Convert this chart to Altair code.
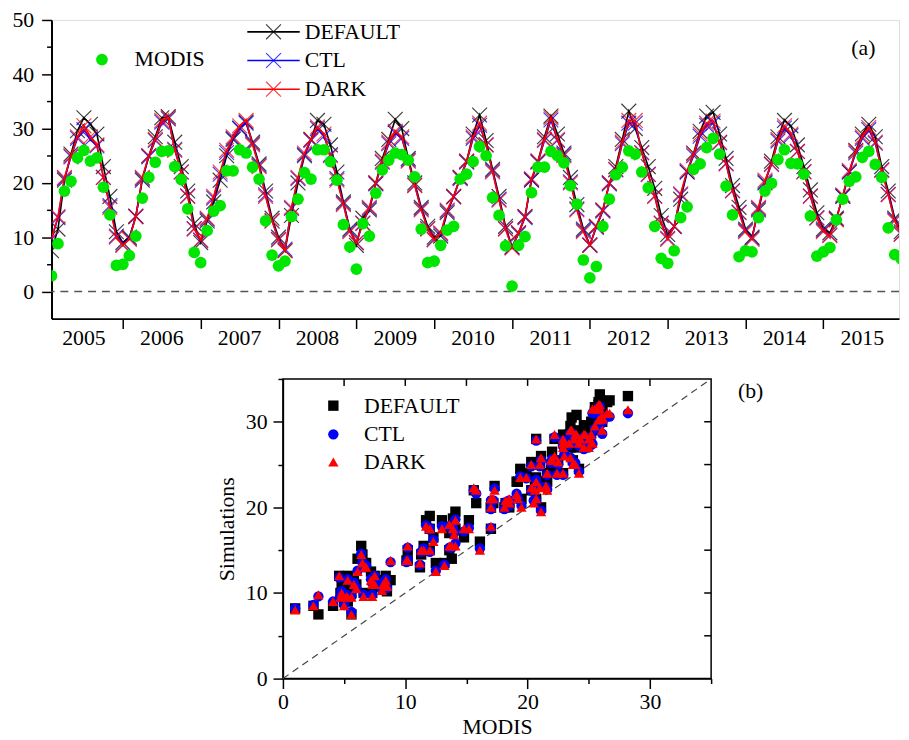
import altair as alt
import pandas as pd

FONT = "Liberation Serif"

YEARS = list(range(2005, 2016))
MONTHS = list(range(1, 13))

MODIS = [
    2.9, 8.8, 18.5, 20.3, 24.6, 26.0, 24.0, 24.6, 19.2, 14.1, 4.8, 5.0,
    6.6, 10.2, 17.2, 21.0, 23.8, 25.8, 25.9, 23.0, 20.6, 15.2, 7.2, 5.3,
    11.2, 14.8, 15.8, 22.2, 22.2, 26.1, 25.5, 22.9, 20.7, 13.0, 6.7, 4.7,
    5.6, 13.8, 17.0, 21.9, 20.7, 26.1, 26.1, 23.9, 20.5, 12.3, 8.2, 4.1,
    12.5, 10.2, 18.1, 22.4, 24.2, 25.5, 25.2, 24.2, 21.1, 11.5, 5.3, 5.6,
    8.5, 11.3, 12.0, 20.7, 21.6, 23.9, 26.7, 25.0, 17.3, 14.0, 8.4, 1.0,
    8.5, 10.1, 18.2, 22.9, 22.9, 25.8, 25.0, 23.7, 19.5, 16.1, 5.8, 2.5,
    4.6, 12.0, 17.0, 21.5, 22.9, 25.9, 25.3, 22.0, 19.1, 12.0, 6.1, 5.2,
    7.5, 13.6, 15.6, 22.5, 23.5, 26.5, 28.2, 25.3, 19.4, 14.1, 6.4, 7.5,
    7.3, 13.6, 18.5, 19.9, 24.3, 26.1, 23.6, 23.5, 21.6, 13.9, 6.5, 7.3,
    8.1, 13.2, 17.0, 20.3, 21.1, 24.7, 25.8, 23.4, 21.0, 11.7, 6.8, 6.0,
]

DEFAULT = [
    7.5, 11.5, 20.5, 25.3, 29.6, 32.0, 30.8, 29.0, 23.0, 17.5, 11.0, 9.0,
    10.0, 13.8, 20.5, 25.0, 28.5, 32.0, 32.2, 27.5, 23.0, 18.5, 12.5, 9.0,
    13.0, 16.5, 20.5, 25.0, 28.0, 30.0, 31.2, 27.5, 23.5, 18.5, 13.5, 10.0,
    7.5, 14.0, 20.0, 25.0, 28.0, 31.5, 30.8, 27.0, 22.0, 16.5, 11.5, 8.5,
    13.5, 15.0, 20.0, 24.5, 28.0, 31.7, 30.0, 24.5, 20.0, 15.5, 12.0, 10.0,
    10.2, 14.5, 17.5, 21.0, 24.0, 29.0, 32.5, 27.8, 22.5, 17.5, 12.0, 8.2,
    10.8, 13.8, 20.5, 24.0, 28.5, 32.3, 29.0, 25.5, 21.0, 16.0, 11.5, 8.5,
    12.0, 15.0, 20.0, 23.0, 28.0, 33.2, 30.0, 26.5, 23.0, 19.0, 14.0, 10.5,
    12.0, 17.0, 22.0, 25.5, 29.5, 32.3, 33.0, 29.0, 24.5, 19.5, 15.5, 11.5,
    10.0, 15.0, 20.0, 24.0, 28.5, 31.5, 30.5, 27.0, 23.0, 18.7, 14.5, 11.5,
    10.8, 13.5, 17.5, 22.0, 26.0, 29.0, 30.8, 28.5, 23.0, 18.5, 13.5, 11.0,
]

CTL = [
    9.6, 13.6, 20.8, 24.8, 28.2, 29.8, 28.0, 26.8, 21.0, 15.8, 10.2, 8.6,
    9.8, 13.9, 20.8, 24.8, 27.8, 31.2, 31.8, 26.2, 22.0, 17.6, 11.6, 9.4,
    13.3, 17.2, 21.6, 25.6, 28.2, 30.1, 31.0, 27.2, 23.2, 17.8, 13.0, 9.6,
    7.8, 15.3, 20.8, 25.2, 27.8, 30.0, 28.6, 25.2, 20.8, 16.2, 11.2, 9.0,
    12.6, 15.3, 19.8, 23.8, 27.2, 29.2, 28.2, 24.2, 19.6, 15.2, 11.6, 9.6,
    10.6, 14.8, 17.4, 20.8, 23.8, 28.2, 30.6, 27.0, 22.2, 17.0, 11.6, 8.2,
    10.6, 13.6, 20.6, 23.8, 27.8, 31.6, 27.8, 25.2, 20.2, 15.2, 11.2, 8.6,
    11.8, 14.8, 19.8, 22.4, 27.2, 31.0, 31.0, 25.6, 21.6, 17.6, 12.6, 9.8,
    12.0, 17.8, 22.0, 25.0, 28.6, 30.6, 31.0, 27.4, 23.6, 18.6, 14.6, 11.2,
    9.8, 15.3, 20.2, 23.4, 27.7, 30.1, 28.7, 25.8, 22.1, 17.6, 13.6, 11.2,
    10.4, 13.3, 17.6, 22.0, 25.5, 28.2, 29.8, 27.3, 22.4, 17.9, 13.2, 10.6,
]

DARK = [
    9.8, 13.8, 21.0, 25.0, 28.5, 30.5, 28.5, 27.0, 21.0, 15.5, 10.0, 8.5,
    9.6, 13.8, 21.0, 25.0, 28.0, 31.5, 32.0, 26.0, 22.0, 17.5, 11.5, 9.5,
    13.5, 17.5, 22.0, 26.0, 28.5, 30.5, 31.5, 27.0, 23.0, 17.5, 13.0, 9.5,
    7.5, 15.5, 21.0, 25.5, 28.0, 30.3, 29.0, 25.0, 20.5, 16.0, 11.0, 9.0,
    12.5, 15.5, 20.0, 24.0, 27.5, 29.5, 28.5, 24.0, 19.5, 15.0, 11.5, 9.5,
    10.8, 15.0, 17.5, 21.0, 24.0, 28.5, 31.0, 27.0, 22.0, 16.8, 11.5, 8.0,
    10.8, 13.8, 20.8, 24.0, 28.0, 32.0, 28.0, 25.0, 20.0, 15.0, 11.0, 8.5,
    12.0, 15.0, 20.0, 22.5, 27.5, 31.5, 31.5, 25.5, 21.5, 17.5, 12.5, 9.6,
    12.0, 18.0, 22.3, 25.3, 29.0, 31.0, 31.4, 27.5, 23.5, 18.5, 14.5, 11.0,
    9.6, 15.5, 20.5, 23.5, 28.0, 30.5, 29.0, 25.8, 22.0, 17.5, 13.5, 11.0,
    10.3, 13.2, 17.8, 22.3, 25.8, 28.5, 30.2, 27.5, 22.3, 17.8, 13.0, 10.5,
]

SERIES = ["DEFAULT", "CTL", "DARK"]
LINE_COLORS = ["#000000", "#0000ff", "#ff0000"]
SCATTER_SHAPES = ["square", "circle", "triangle-up"]
MODIS_COLOR = "#00e600"
XPATH = "M-1,-1L1,1M-1,1L1,-1"

t = [y + m / 12 for y in YEARS for m in MONTHS]
ts = pd.DataFrame({"t": t, "MODIS": MODIS, "DEFAULT": DEFAULT, "CTL": CTL, "DARK": DARK})
one = pd.DataFrame({"k": [0]})

# ---------------- panel (a) ----------------
WA, HA = 857, 302
xsc = alt.Scale(domain=[2005 + 1 / 12, 2015.972], nice=False, zero=False)
ysc = alt.Scale(domain=[-5, 50], nice=False, zero=False)

tick10 = {"condition": {"test": "datum.value % 10 === 0", "value": 10}, "value": 5}

ax_xa = alt.Axis(values=YEARS[1:], labels=False, title=None, tickSize=10, tickColor="black",
                 tickWidth=1.5, domainColor="black", domainWidth=2, grid=False)
ax_ya = alt.Axis(values=list(range(0, 55, 5)), title=None, tickSize=tick10, tickColor="black",
                 tickWidth=1.5, domainColor="black", domainWidth=2, grid=False,
                 labelExpr="datum.value % 10 === 0 ? datum.label : ''",
                 labelFont=FONT, labelFontSize=22, labelColor="black", labelPadding=8,
                 labelOverlap=False, labelFlush=False, minExtent=43)

base = alt.Chart(ts)
layers_a = []
layers_a.append(
    alt.Chart(pd.DataFrame({"y": [0]})).mark_rule(color="#555555", strokeDash=[8, 6], strokeWidth=1.5)
    .encode(y=alt.Y("y:Q", scale=ysc, axis=ax_ya))
)
for s, c in zip(SERIES, LINE_COLORS):
    enc = dict(x=alt.X("t:Q", scale=xsc, axis=ax_xa), y=alt.Y(f"{s}:Q", scale=ysc, axis=ax_ya))
    layers_a.append(base.mark_line(color=c, strokeWidth=1.6, clip=True).encode(**enc))
    layers_a.append(base.mark_point(shape=XPATH, filled=False, size=225, strokeWidth=1.2,
                                    color=c, opacity=0.75, clip=True).encode(**enc))
layers_a.append(
    base.mark_circle(color=MODIS_COLOR, size=140, opacity=1, clip=True)
    .encode(x=alt.X("t:Q", scale=xsc, axis=ax_xa), y=alt.Y("MODIS:Q", scale=ysc, axis=ax_ya))
)
# year labels
ylab = pd.DataFrame({"ym": [y + 0.5 for y in YEARS], "lab": [str(y) for y in YEARS]})
layers_a.append(
    alt.Chart(ylab).mark_text(font=FONT, fontSize=22, baseline="middle", align="center", color="black")
    .encode(x=alt.X("ym:Q", scale=xsc, axis=ax_xa), y=alt.value(HA + 20), text="lab:N")
)
# legend (a)
layers_a.append(alt.Chart(one).mark_circle(color=MODIS_COLOR, size=140, opacity=1)
                .encode(x=alt.value(51), y=alt.value(40)))
layers_a.append(alt.Chart(one).mark_text(text="MODIS", font=FONT, fontSize=22, align="left",
                                         baseline="middle", color="black")
                .encode(x=alt.value(84), y=alt.value(40)))
for s, c, yy in zip(SERIES, LINE_COLORS, [12, 41, 70]):
    layers_a.append(alt.Chart(one).mark_rule(color=c, strokeWidth=1.6)
                    .encode(x=alt.value(198), x2=alt.value(251), y=alt.value(yy)))
    layers_a.append(alt.Chart(one).mark_point(shape=XPATH, filled=False, size=225, strokeWidth=1.2,
                                              color=c, opacity=0.75)
                    .encode(x=alt.value(224.5), y=alt.value(yy)))
    layers_a.append(alt.Chart(one).mark_text(text=s, font=FONT, fontSize=22, align="left",
                                             baseline="middle", color="black")
                    .encode(x=alt.value(256), y=alt.value(yy)))
layers_a.append(alt.Chart(one).mark_text(text="(a)", font=FONT, fontSize=22, align="center",
                                         baseline="middle", color="black")
                .encode(x=alt.value(821), y=alt.value(28)))

panel_a = alt.layer(*layers_a).properties(width=WA, height=HA)

# ---------------- panel (b) ----------------
WB, HB = 433, 303
bsc = alt.Scale(domain=[0, 35], nice=False, zero=False)
common_b = dict(values=list(range(0, 40, 5)), tickSize=tick10, tickColor="black", tickWidth=1.5,
                domainColor="black", domainWidth=1.5, grid=False,
                labelExpr="datum.value % 10 === 0 && datum.value < 35 ? datum.label : ''",
                labelFont=FONT, labelFontSize=22, labelColor="black", labelOverlap=False,
                labelFlush=False, titleFont=FONT, titleFontSize=22, titleFontWeight="normal",
                titleColor="black")
ax_xb = alt.Axis(title="MODIS", labelPadding=3, titlePadding=5, **common_b)
ax_yb = alt.Axis(title="Simulations", labelPadding=6, titlePadding=7, **common_b)

layers_b = []
layers_b.append(
    alt.Chart(pd.DataFrame({"a": [0, 35]})).mark_line(color="#444444", strokeDash=[7, 5], strokeWidth=1.2)
    .encode(x=alt.X("a:Q", scale=bsc, axis=ax_xb), y=alt.Y("a:Q", scale=bsc, axis=ax_yb))
)
for s, c, sh in zip(SERIES, LINE_COLORS, SCATTER_SHAPES):
    layers_b.append(
        base.mark_point(shape=sh, filled=True, size=110, color=c, opacity=1)
        .encode(x=alt.X("MODIS:Q", scale=bsc, axis=ax_xb), y=alt.Y(f"{s}:Q", scale=bsc, axis=ax_yb))
    )
# mirror ticks (inward) on top and right
mt = pd.DataFrame({"v": [5, 10, 15, 20, 25, 30]})
layers_b.append(alt.Chart(mt).mark_rule(color="black", strokeWidth=1.5)
                .encode(x=alt.X("v:Q", scale=bsc, axis=ax_xb), y=alt.value(0),
                        y2=alt.value(7)))
layers_b.append(alt.Chart(mt).mark_rule(color="black", strokeWidth=1.5)
                .encode(y=alt.Y("v:Q", scale=bsc, axis=ax_yb), x=alt.value(WB),
                        x2=alt.value(WB - 7)))
# legend (b)
for s, c, sh, yy in zip(SERIES, LINE_COLORS, SCATTER_SHAPES, [27, 56, 84]):
    layers_b.append(alt.Chart(one).mark_point(shape=sh, filled=True, size=110, color=c, opacity=1)
                    .encode(x=alt.value(51), y=alt.value(yy)))
    layers_b.append(alt.Chart(one).mark_text(text=s, font=FONT, fontSize=22, align="left",
                                             baseline="middle", color="black")
                    .encode(x=alt.value(82), y=alt.value(yy)))
layers_b.append(alt.Chart(one).mark_text(text="(b)", font=FONT, fontSize=22, align="center",
                                         baseline="middle", color="black")
                .encode(x=alt.value(473), y=alt.value(12)))

panel_b = alt.layer(*layers_b).properties(
    width=WB, height=HB, view=alt.ViewBackground(stroke="black", strokeWidth=1.5)
)

spacer = alt.Chart(one).mark_point(opacity=0).encode(x=alt.value(0), y=alt.value(0)).properties(
    width=165, height=10, view=alt.ViewBackground(stroke="transparent", strokeWidth=0, fill="transparent")
)

chart = alt.vconcat(
    panel_a,
    alt.hconcat(spacer, panel_b, spacing=0),
    spacing=17,
).properties(
    padding={"top": -4, "left": 0, "right": 0, "bottom": 0}
).configure_view(stroke="transparent", strokeWidth=0).configure(font=FONT)

chart.save("out.html", embed_options={"renderer": "svg", "actions": False})
